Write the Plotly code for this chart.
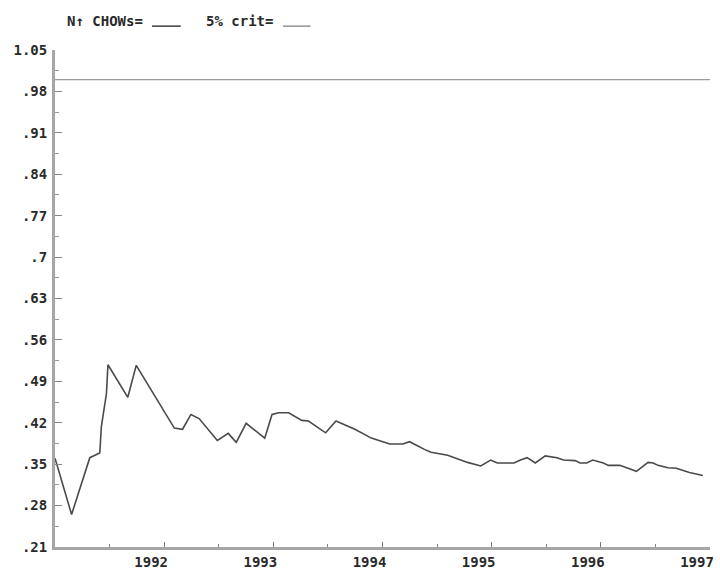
import plotly.graph_objects as go

# N-step Chow test statistics (scaled by the 5% critical value), sample 1991-1997
dates = [1991.000, 1991.152, 1991.319, 1991.410, 1991.425, 1991.471, 1991.485,
         1991.667, 1991.744, 1991.865, 1992.093, 1992.168, 1992.245, 1992.320,
         1992.487, 1992.587, 1992.660, 1992.751, 1992.921, 1992.988, 1993.049,
         1993.140, 1993.261, 1993.322, 1993.479, 1993.574, 1993.747, 1993.898,
         1994.066, 1994.187, 1994.248, 1994.384, 1994.444, 1994.597, 1994.779,
         1994.900, 1994.991, 1995.052, 1995.204, 1995.264, 1995.325, 1995.400,
         1995.491, 1995.598, 1995.659, 1995.765, 1995.810, 1995.871, 1995.926,
         1996.023, 1996.069, 1996.174, 1996.326, 1996.433, 1996.479, 1996.524,
         1996.615, 1996.691, 1996.812, 1996.934]
chows = [0.360, 0.265, 0.361, 0.369, 0.414, 0.469, 0.518,
         0.463, 0.517, 0.480, 0.411, 0.409, 0.434, 0.427,
         0.390, 0.402, 0.387, 0.419, 0.394, 0.434, 0.437,
         0.437, 0.424, 0.423, 0.403, 0.423, 0.409, 0.394,
         0.384, 0.384, 0.388, 0.375, 0.370, 0.365, 0.353,
         0.347, 0.357, 0.352, 0.352, 0.357, 0.361, 0.352,
         0.364, 0.361, 0.357, 0.356, 0.352, 0.352, 0.357,
         0.352, 0.348, 0.348, 0.338, 0.353, 0.352, 0.348,
         0.344, 0.343, 0.336, 0.331]

crit_dates = [1991.0, 1997.0]
crit = [1.0, 1.0]

y_ticks = [0.21, 0.28, 0.35, 0.42, 0.49, 0.56, 0.63, 0.70, 0.77, 0.84, 0.91, 0.98, 1.05]
y_labels = [".21", ".28", ".35", ".42", ".49", ".56", ".63", ".7", ".77", ".84", ".91", ".98", "1.05"]
x_ticks = [1992, 1993, 1994, 1995, 1996, 1997]
x_labels = ["1992", "1993", "1994", "1995", "1996", "1997"]

DARK = "#4a4a4a"
LIGHT = "#9a9a9a"
AXIS = "#a6a6a6"
FONT = dict(family="DejaVu Sans Mono", size=14, color="#2a2a2a", weight="bold")

fig = go.Figure()
fig.add_trace(go.Scatter(x=crit_dates, y=crit, mode="lines",
                         line=dict(color=LIGHT, width=1.3), name="5% crit"))
fig.add_trace(go.Scatter(x=dates, y=chows, mode="lines",
                         line=dict(color=DARK, width=1.6), name="N\u2191 CHOWs"))

fig.update_layout(
    width=720, height=576,
    margin=dict(l=55, r=6, t=50, b=20),
    paper_bgcolor="white", plot_bgcolor="white",
    showlegend=False,
    font=FONT,
)

fig.update_xaxes(
    range=[1991, 1997], showgrid=False, zeroline=False,
    showline=True, linewidth=3, linecolor=AXIS,
    tickmode="array", tickvals=x_ticks, ticktext=x_labels,
    ticks="inside", ticklen=5, tickwidth=1.2, tickcolor="#777",
    ticklabelshift=-13, ticklabelstandoff=0,
    minor=dict(tickmode="linear", tick0=1991.5, dtick=1, ticks="inside",
               ticklen=3, tickwidth=1.2, tickcolor="#888"),
    tickfont=FONT,
)
fig.update_yaxes(
    range=[0.21, 1.05], showgrid=False, zeroline=False,
    showline=True, linewidth=3, linecolor=AXIS,
    tickmode="array", tickvals=y_ticks, ticktext=y_labels,
    ticks="inside", ticklen=7, tickwidth=1.2, tickcolor="#888",
    ticklabelstandoff=2,
    minor=dict(tickmode="linear", tick0=0.245, dtick=0.07, ticks="inside",
               ticklen=4, tickwidth=1.2, tickcolor="#999"),
    tickfont=FONT,
)

# Legend line: label followed by a short sample of each line style
fig.add_annotation(text="N\u2191 CHOWs=", xref="paper", yref="paper",
                   x=0.0152, y=1.059, xanchor="left", yanchor="middle",
                   showarrow=False, font=FONT)
fig.add_shape(type="line", xref="paper", yref="paper",
              x0=0.148, x1=0.192, y0=1.048, y1=1.048,
              line=dict(color=DARK, width=1.6))
fig.add_annotation(text="5% crit=", xref="paper", yref="paper",
                   x=0.228, y=1.059, xanchor="left", yanchor="middle",
                   showarrow=False, font=FONT)
fig.add_shape(type="line", xref="paper", yref="paper",
              x0=0.348, x1=0.390, y0=1.048, y1=1.048,
              line=dict(color=LIGHT, width=1.6))

fig.write_html("out.html")
